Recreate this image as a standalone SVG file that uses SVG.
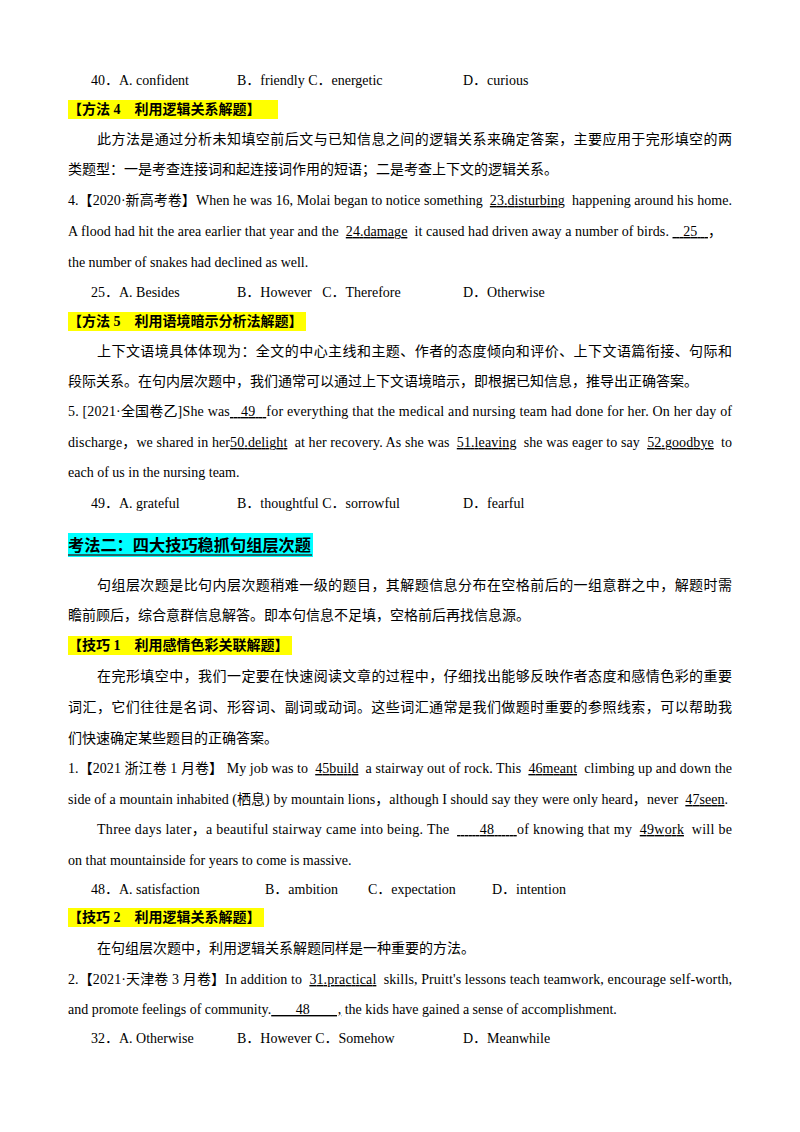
<svg xmlns="http://www.w3.org/2000/svg" width="800" height="1132" viewBox="0 0 800 1132">
<style>
text{font-family:"Liberation Serif","Noto Sans CJK SC",serif;font-size:14px;fill:#000;white-space:pre}
.h{font-weight:bold}
.u{text-decoration:underline}
.hl{fill:#ffff00}
</style>
<rect width="800" height="1132" fill="#fff"/>
<text x="91" y="85">40．A. confident</text><text x="237" y="85">B．friendly C．energetic</text><text x="463" y="85">D．curious</text>
<rect class="hl" x="68" y="100" width="210" height="19"/>
<text class="h" x="68" y="114">【方法 4　利用逻辑关系解题】</text>
<text x="97" y="144" textLength="635" lengthAdjust="spacing">此方法是通过分析未知填空前后文与已知信息之间的逻辑关系来确定答案，主要应用于完形填空的两</text>
<text x="68" y="174">类题型：一是考查连接词和起连接词作用的短语；二是考查上下文的逻辑关系。</text>
<text x="68" y="205" textLength="664" lengthAdjust="spacing">4.【2020·新高考卷】When he was 16, Molai began to notice something  <tspan class="u">23.disturbing</tspan>  happening around his home.</text>
<text x="68" y="236" textLength="654" lengthAdjust="spacing">A flood had hit the area earlier that year and the  <tspan class="u">24.damage</tspan>  it caused had driven away a number of birds. <tspan class="u">   25   </tspan>，</text>
<text x="68" y="267">the number of snakes had declined as well.</text>
<text x="91" y="297">25．A. Besides</text><text x="237" y="297">B．However   C．Therefore</text><text x="463" y="297">D．Otherwise</text>
<rect class="hl" x="68" y="312" width="238" height="19"/>
<text class="h" x="68" y="326">【方法 5　利用语境暗示分析法解题】</text>
<text x="97" y="356" textLength="635" lengthAdjust="spacing">上下文语境具体体现为：全文的中心主线和主题、作者的态度倾向和评价、上下文语篇衔接、句际和</text>
<text x="68" y="386">段际关系。在句内层次题中，我们通常可以通过上下文语境暗示，即根据已知信息，推导出正确答案。</text>
<text x="68" y="416" textLength="664" lengthAdjust="spacing">5. [2021·全国卷乙]She was<tspan class="u">   49   </tspan>for everything that the medical and nursing team had done for her. On her day of</text>
<text x="68" y="447" textLength="664" lengthAdjust="spacing">discharge，we shared in her<tspan class="u">50.delight</tspan>  at her recovery. As she was  <tspan class="u">51.leaving</tspan>  she was eager to say  <tspan class="u">52.goodbye</tspan>  to</text>
<text x="68" y="477">each of us in the nursing team.</text>
<text x="91" y="508">49．A. grateful</text><text x="237" y="508">B．thoughtful C．sorrowful</text><text x="463" y="508">D．fearful</text>
<rect x="68" y="533" width="245" height="24" fill="#00ffff"/>
<text class="h" x="68" y="551" style="font-size:16px" textLength="243" lengthAdjust="spacingAndGlyphs">考法二：四大技巧稳抓句组层次题</text>
<line x1="68" y1="555" x2="312" y2="555" stroke="#333" stroke-width="1.5"/>
<text x="97" y="590" textLength="635" lengthAdjust="spacing">句组层次题是比句内层次题稍难一级的题目，其解题信息分布在空格前后的一组意群之中，解题时需</text>
<text x="68" y="620">瞻前顾后，综合意群信息解答。即本句信息不足填，空格前后再找信息源。</text>
<rect class="hl" x="68" y="636" width="224" height="19"/>
<text class="h" x="68" y="650">【技巧 1　利用感情色彩关联解题】</text>
<text x="97" y="681" textLength="635" lengthAdjust="spacing">在完形填空中，我们一定要在快速阅读文章的过程中，仔细找出能够反映作者态度和感情色彩的重要</text>
<text x="68" y="712" textLength="664" lengthAdjust="spacing">词汇，它们往往是名词、形容词、副词或动词。这些词汇通常是我们做题时重要的参照线索，可以帮助我</text>
<text x="68" y="743">们快速确定某些题目的正确答案。</text>
<text x="68" y="773" textLength="664" lengthAdjust="spacing">1.【2021 浙江卷 1 月卷】 My job was to  <tspan class="u">45build</tspan>  a stairway out of rock. This  <tspan class="u">46meant</tspan>  climbing up and down the</text>
<text x="68" y="804" textLength="660" lengthAdjust="spacing">side of a mountain inhabited (栖息) by mountain lions，although I should say they were only heard，never  <tspan class="u">47seen</tspan>.</text>
<text x="97" y="834" textLength="635" lengthAdjust="spacing">Three days later，a beautiful stairway came into being. The  <tspan class="u">      48      </tspan>of knowing that my  <tspan class="u">49work</tspan>  will be</text>
<text x="68" y="865">on that mountainside for years to come is massive.</text>
<text x="91" y="894">48．A. satisfaction</text><text x="265" y="894">B．ambition</text><text x="368" y="894">C．expectation</text><text x="492" y="894">D．intention</text>
<rect class="hl" x="68" y="908" width="196" height="19"/>
<text class="h" x="68" y="922">【技巧 2　利用逻辑关系解题】</text>
<text x="97" y="953">在句组层次题中，利用逻辑关系解题同样是一种重要的方法。</text>
<text x="68" y="984" textLength="664" lengthAdjust="spacing">2.【2021·天津卷 3 月卷】In addition to  <tspan class="u">31.practical</tspan>  skills, Pruitt's lessons teach teamwork, encourage self-worth,</text>
<text x="68" y="1014">and promote feelings of community.<tspan class="u">       48        ,</tspan> the kids have gained a sense of accomplishment.</text>
<text x="91" y="1043">32．A. Otherwise</text><text x="237" y="1043">B．However C．Somehow</text><text x="463" y="1043">D．Meanwhile</text>
</svg>
